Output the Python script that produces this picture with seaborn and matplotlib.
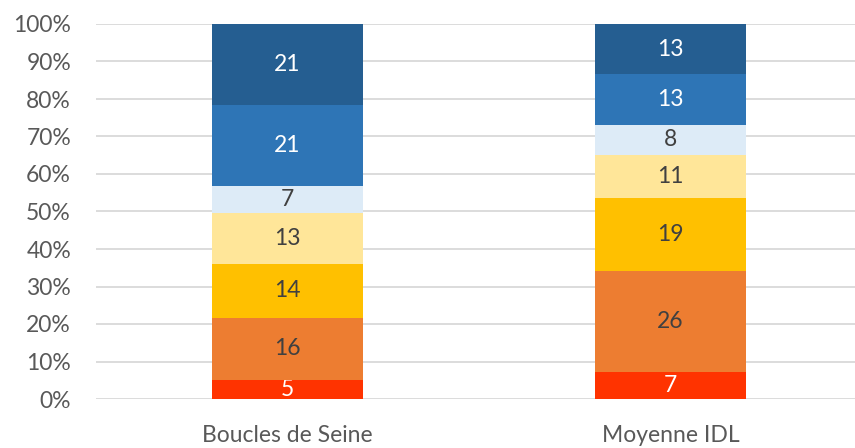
import numpy as np
import matplotlib.pyplot as plt
import seaborn as sns
from matplotlib.ticker import PercentFormatter

sns.set_theme(style="white")
plt.rcParams['font.family'] = ['Lato', 'DejaVu Sans']

categories = ['Boucles de Seine', 'Moyenne IDL']
# segment values, bottom to top
boucles = [5, 16, 14, 13, 7, 21, 21]
idl = [7, 26, 19, 11, 8, 13, 13]
colors = ['#FF3300', '#ED7D31', '#FFC000', '#FFE699', '#DDEBF7', '#2E75B6', '#255E91']
text_colors = ['white', '#404040', '#404040', '#404040', '#404040', 'white', 'white']

vals = np.array([boucles, idl], dtype=float)
shares = vals / vals.sum(axis=1, keepdims=True)

fig = plt.figure(figsize=(8.55, 4.48), dpi=100)
ax = fig.add_axes([96 / 855, 1 - 399 / 448, 1 - 96 / 855, (399 - 24) / 448])

bottom = np.zeros(len(categories))
for i in range(shares.shape[1]):
    sns.barplot(x=categories, y=shares[:, i], bottom=bottom, color=colors[i],
                width=0.395, saturation=1, linewidth=0, ax=ax, zorder=3)
    cont = ax.containers[-1]
    ax.bar_label(cont, labels=[str(int(v)) for v in vals[:, i]], label_type='center',
                 color=text_colors[i], fontsize=16.5)
    bottom = bottom + shares[:, i]

ax.set_ylim(0, 1)
ax.set_xlim(-0.5, 1.482)
ax.set_yticks(np.arange(0, 1.01, 0.1))
ax.yaxis.set_major_formatter(PercentFormatter(1.0, decimals=0))
ax.yaxis.grid(True, color='#D9D9D9', linewidth=1.3, zorder=0)
ax.set_axisbelow(True)
for s in ax.spines.values():
    s.set_visible(False)
ax.tick_params(axis='both', length=0, labelsize=16.5, labelcolor='#595959')
ax.tick_params(axis='y', pad=18)
ax.tick_params(axis='x', pad=19)
ax.set_xlabel('')
ax.set_ylabel('')

plt.savefig('out.png', dpi=100)
